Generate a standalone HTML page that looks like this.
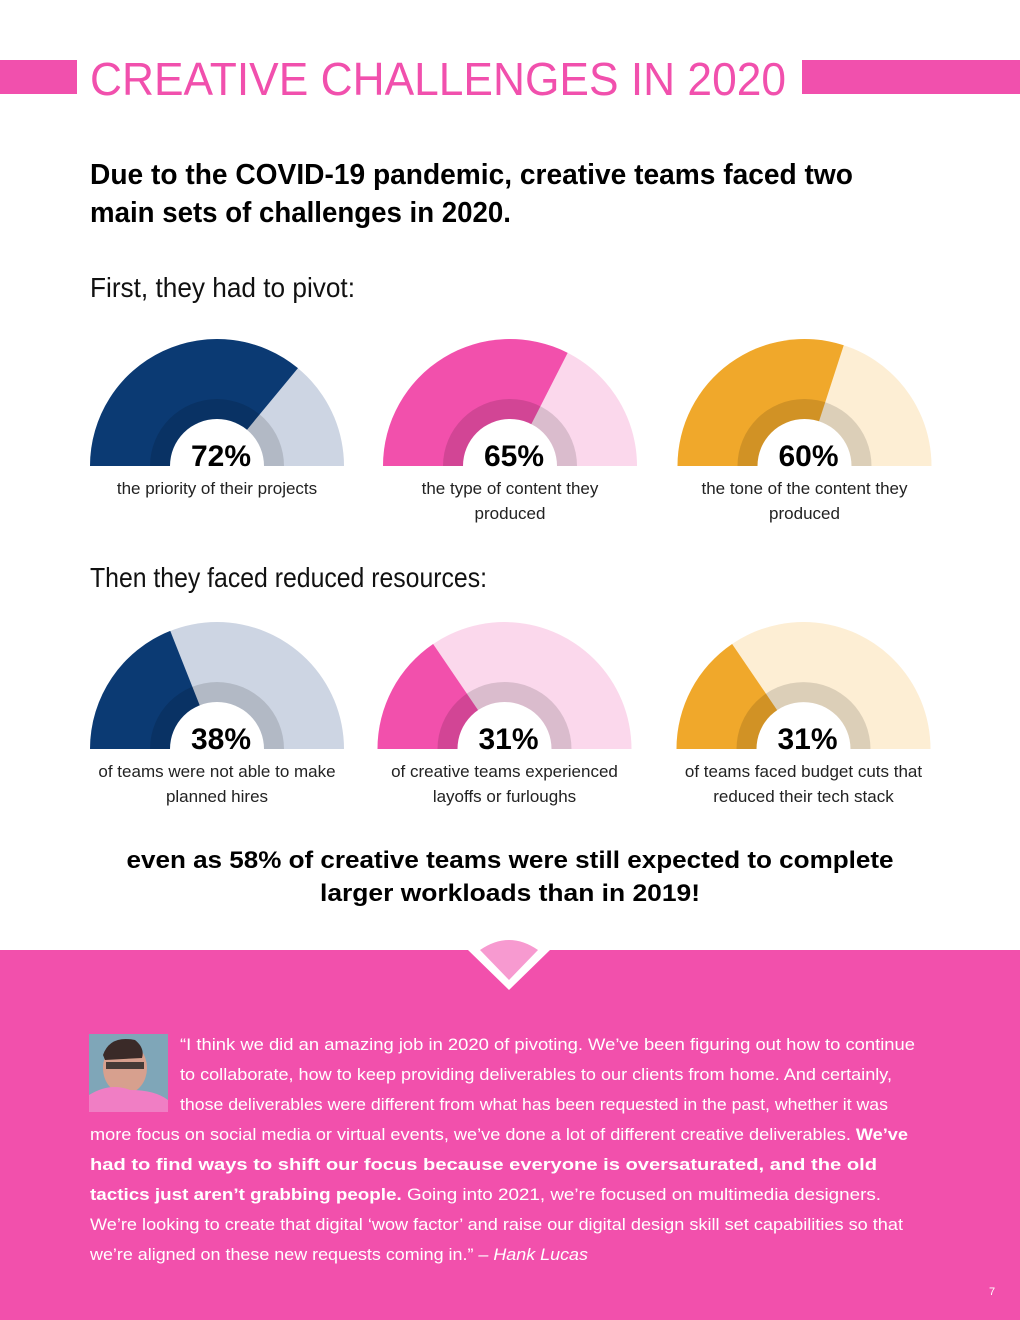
<!DOCTYPE html>
<html><head><meta charset="utf-8"><style>
html,body{margin:0;padding:0;background:#fff;}
svg{display:block;font-family:"Liberation Sans",sans-serif;}
</style></head><body>
<svg id="page" width="1020" height="1320" viewBox="0 0 1020 1320">
<rect x="0" y="60" width="77" height="34" fill="#f150ad"/>
<rect x="802" y="60" width="218" height="34" fill="#f150ad"/>
<text x="90" y="95" font-size="46" fill="#f150ad" textLength="696" lengthAdjust="spacingAndGlyphs">CREATIVE CHALLENGES IN 2020</text>
<text x="90" y="184" font-size="29" font-weight="bold" fill="#000" textLength="763" lengthAdjust="spacingAndGlyphs">Due to the COVID-19 pandemic, creative teams faced two</text>
<text x="90" y="222" font-size="29" font-weight="bold" fill="#000" textLength="421" lengthAdjust="spacingAndGlyphs">main sets of challenges in 2020.</text>
<text x="90" y="297" font-size="28" fill="#111" textLength="265" lengthAdjust="spacingAndGlyphs">First, they had to pivot:</text>
<text x="90" y="587" font-size="28" fill="#111" textLength="397" lengthAdjust="spacingAndGlyphs">Then they faced reduced resources:</text>
<g id="gauges"></g>
<text x="510" y="868" text-anchor="middle" font-size="24" font-weight="bold" fill="#000" textLength="767" lengthAdjust="spacingAndGlyphs">even as 58% of creative teams were still expected to complete</text>
<text x="510" y="901" text-anchor="middle" font-size="24" font-weight="bold" fill="#000" textLength="380" lengthAdjust="spacingAndGlyphs">larger workloads than in 2019!</text>
<rect x="0" y="950" width="1020" height="370" fill="#f250ac"/>
<polygon points="468,950 550,950 509,990" fill="#fff"/>
<path d="M480,950 Q509,930 538,950 L509,980 Z" fill="#f79ad0"/>
<g>
<rect x="89" y="1034" width="79" height="78" fill="#7fa6b8"/>
<ellipse cx="125" cy="1068" rx="22" ry="26" fill="#d7a08e"/>
<path d="M103,1055 Q110,1035 135,1040 Q145,1048 142,1058 L105,1060 Z" fill="#3a2a28"/>
<rect x="106" y="1062" width="38" height="7" fill="#222" opacity="0.8"/>
<path d="M89,1112 L89,1095 Q110,1082 130,1090 Q155,1090 168,1100 L168,1112 Z" fill="#f07ec4"/>
</g>
<g fill="#fff" font-size="17">
<text x="180" y="1050" textLength="735" lengthAdjust="spacingAndGlyphs">“I think we did an amazing job in 2020 of pivoting. We’ve been figuring out how to continue</text>
<text x="180" y="1080" textLength="712" lengthAdjust="spacingAndGlyphs">to collaborate, how to keep providing deliverables to our clients from home. And certainly,</text>
<text x="180" y="1110" textLength="708" lengthAdjust="spacingAndGlyphs">those deliverables were different from what has been requested in the past, whether it was</text>
<text x="90" y="1140" textLength="818" lengthAdjust="spacingAndGlyphs">more focus on social media or virtual events, we’ve done a lot of different creative deliverables. <tspan font-weight="bold">We’ve</tspan></text>
<text x="90" y="1170" font-weight="bold" textLength="787" lengthAdjust="spacingAndGlyphs">had to find ways to shift our focus because everyone is oversaturated, and the old</text>
<text x="90" y="1200" textLength="791" lengthAdjust="spacingAndGlyphs"><tspan font-weight="bold">tactics just aren’t grabbing people.</tspan> Going into 2021, we’re focused on multimedia designers.</text>
<text x="90" y="1230" textLength="813" lengthAdjust="spacingAndGlyphs">We’re looking to create that digital ‘wow factor’ and raise our digital design skill set capabilities so that</text>
<text x="90" y="1260" textLength="498" lengthAdjust="spacingAndGlyphs">we’re aligned on these new requests coming in.”  <tspan font-style="italic">– Hank Lucas</tspan></text>
</g>
<text x="989" y="1295" font-size="11" fill="#fff">7</text>
</svg>
<script>
const values = [72, 65, 60, 38, 31, 31];
const labels = ["72%", "65%", "60%", "38%", "31%", "31%"];
const captions = [
  ["the priority of their projects"],
  ["the type of content they", "produced"],
  ["the tone of the content they", "produced"],
  ["of teams were not able to make", "planned hires"],
  ["of creative teams experienced", "layoffs or furloughs"],
  ["of teams faced budget cuts that", "reduced their tech stack"]
];
const cxs = [217, 510, 804.5, 217, 504.5, 803.5];
const cys = [466, 466, 466, 749, 749, 749];
const fills = ["#0b3a73", "#f250ac", "#f0a82b", "#0b3a73", "#f250ac", "#f0a82b"];
const lights = ["#cdd5e3", "#fbd8ec", "#fdeed4", "#cdd5e3", "#fbd8ec", "#fdeed4"];
const NS = "http://www.w3.org/2000/svg";
const R = 127, RS = 67, RI = 47;
function pt(cx, cy, r, pct) {
  const a = Math.PI * pct / 100;
  return [cx - r * Math.cos(a), cy - r * Math.sin(a)];
}
function sector(cx, cy, r, p0, p1) {
  const a = pt(cx, cy, r, p0), b = pt(cx, cy, r, p1);
  return `M${cx},${cy} L${a[0]},${a[1]} A${r},${r} 0 0 1 ${b[0]},${b[1]} Z`;
}
const g = document.getElementById("gauges");
values.forEach((v, i) => {
  const cx = cxs[i], cy = cys[i];
  const grp = document.createElementNS(NS, "g");
  
  
  const bg = document.createElementNS(NS, "path");
  bg.setAttribute("d", sector(cx, cy, R, 0, 100));
  bg.setAttribute("fill", lights[i]);
  
  
  grp.appendChild(bg);
  const fg = document.createElementNS(NS, "path");
  fg.setAttribute("d", sector(cx, cy, R, 0, v));
  fg.setAttribute("fill", fills[i]);
  
  
  grp.appendChild(fg);
  const sh = document.createElementNS(NS, "path");
  sh.setAttribute("d", sector(cx, cy, RS, 0, 100));
  sh.setAttribute("fill", "rgba(0,0,0,0.13)");
  
  
  grp.appendChild(sh);
  const c = document.createElementNS(NS, "path");
  c.setAttribute("d", sector(cx, cy, RI, 0, 100));
  c.setAttribute("fill", "#fff");
  
  
  grp.appendChild(c);
  const t = document.createElementNS(NS, "text");
  t.setAttribute("x", cx + 4);
  t.setAttribute("y", cy);
  t.setAttribute("text-anchor", "middle");
  t.setAttribute("font-size", "30");
  t.setAttribute("font-weight", "bold");
  t.setAttribute("fill", "#000");
  t.textContent = labels[i];
  
  
  grp.appendChild(t);
  captions[i].forEach((line, j) => {
    const ct = document.createElementNS(NS, "text");
    ct.setAttribute("x", cx);
    ct.setAttribute("y", cy + 28 + j * 25);
    ct.setAttribute("text-anchor", "middle");
    ct.setAttribute("font-size", "17");
    ct.setAttribute("fill", "#222");
    ct.textContent = line;
    
    
    grp.appendChild(ct);
  });
  g.appendChild(grp);
});
</script>
</body></html>
